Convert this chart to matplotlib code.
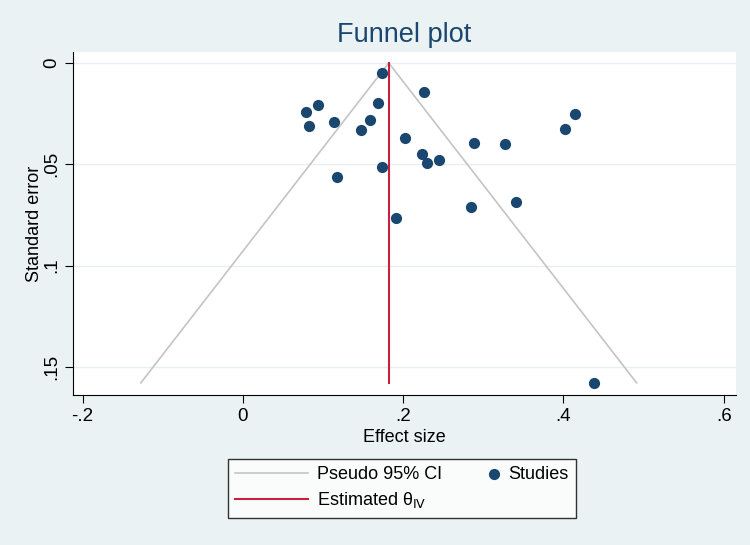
import numpy as np
import matplotlib
matplotlib.use('Agg')
from matplotlib import pyplot as plt
from matplotlib.legend_handler import HandlerPathCollection

plt.rcParams['font.family'] = ['Liberation Sans', 'DejaVu Sans']

# Dane
effect = [0.173, 0.226, 0.094, 0.079, 0.168, 0.082, 0.114, 0.158, 0.148,
          0.202, 0.224, 0.230, 0.245, 0.173, 0.118, 0.288, 0.327, 0.402,
          0.414, 0.285, 0.341, 0.191, 0.438]
se = [0.0051, 0.0144, 0.0207, 0.0242, 0.0199, 0.0312, 0.0292, 0.0279, 0.0331,
      0.0372, 0.0449, 0.0492, 0.0480, 0.0515, 0.0562, 0.0396, 0.0399, 0.0327,
      0.0253, 0.0709, 0.0687, 0.0766, 0.1578]
theta = 0.182

x_ticks = [-0.2, 0, 0.2, 0.4, 0.6]
x_labels = ['-.2', '0', '.2', '.4', '.6']
y_ticks = [0, 0.05, 0.1, 0.15]
y_labels = ['0', '.05', '.1', '.15']

bg = '#eaf2f3'
navy = '#1a476f'

fig = plt.figure(figsize=(7.5, 5.45), dpi=100, facecolor=bg)
ax = fig.add_axes([0.0973, 0.2752, 0.8837, 0.6294])
ax.set_facecolor('white')

# Linie lejka (pseudo 95% CI)
se_max = max(se)
se_line = np.array([0, se_max])
ci, = ax.plot([theta - 1.96 * se_max, theta, theta + 1.96 * se_max],
              [se_max, 0, se_max], color='#c4c4c4', lw=1.2, zorder=2)
est, = ax.plot([theta, theta], se_line, color='#c8203f', lw=1.5, zorder=3)
pts = ax.scatter(effect, se, s=65, color=navy, zorder=4, linewidths=0)

ax.set_xlim(-0.212, 0.615)
ax.set_ylim(0.1638, -0.0054)
ax.set_xticks(x_ticks)
ax.set_xticklabels(x_labels)
ax.set_yticks(y_ticks)
ax.set_yticklabels(y_labels, rotation=90, va='center')
ax.tick_params(labelsize=13.5, length=6, color='black')
for t in ax.get_yticks():
    ax.axhline(t, color='#e6eff1', lw=1, zorder=1)

for side in ['top', 'right']:
    ax.spines[side].set_visible(False)

ax.set_xlabel('Effect size', fontsize=13, labelpad=3)
ax.set_ylabel('Standard error', fontsize=13, labelpad=0)
fig.text(0.539, 0.935, 'Funnel plot', ha='center', va='center', fontsize=19.5, color=navy)

# marker "Studies" przesunięty w prawo, blisko tekstu
leg = fig.legend([ci, est, pts], ['Pseudo 95% CI', r'Estimated θ$_{\mathrm{IV}}$', 'Studies'],
                 ncol=2, loc='center', bbox_to_anchor=(0.536, 0.104), fontsize=13,
                 frameon=True, fancybox=False, edgecolor='black', handlelength=4.0,
                 handletextpad=0.55, columnspacing=-0.9, borderpad=0.4, labelspacing=0.4,
                 handler_map={pts: HandlerPathCollection(xpad=3.5)})
leg.get_frame().set_linewidth(1.0)

plt.savefig('out.png', dpi=100, facecolor=bg)
